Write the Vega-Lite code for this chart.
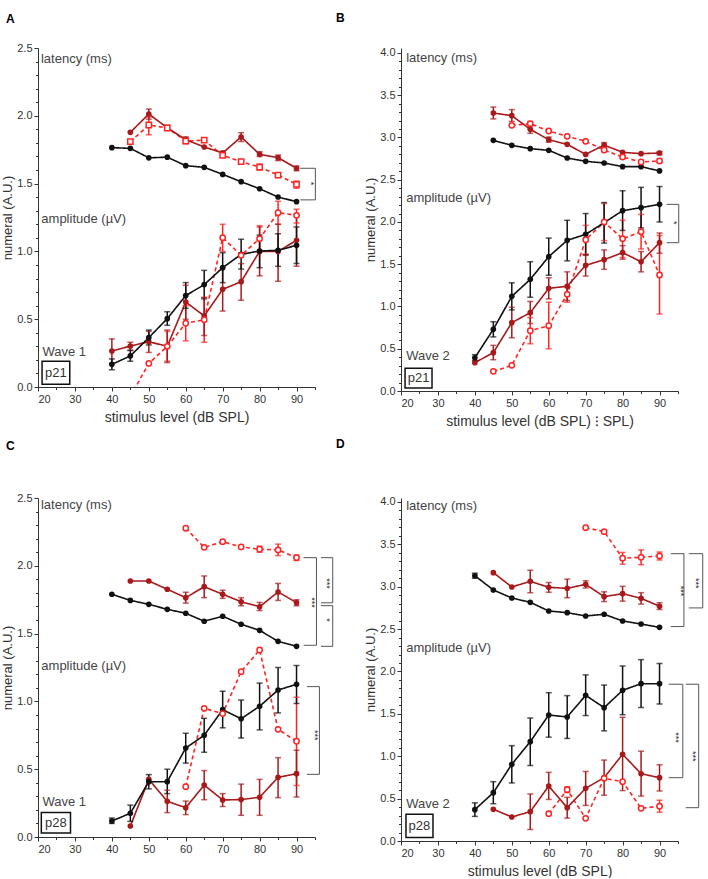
{
"$schema":"https://vega.github.io/schema/vega-lite/v6.json",
"padding":{"left":1,"top":11,"right":0,"bottom":0},
"autosize":{"type":"pad"},
"datasets":{
"pts":[
{"p":"A","g":"L","s":"r","x":45,"y":1.809},{"p":"A","g":"L","s":"r","x":50,"y":1.932,"lo":1.86,"hi":1.99},{"p":"A","g":"L","s":"r","x":55,"y":1.91},{"p":"A","g":"L","s":"r","x":60,"y":1.814,"lo":1.795,"hi":1.835},{"p":"A","g":"L","s":"r","x":65,"y":1.82},{"p":"A","g":"L","s":"r","x":70,"y":1.708},{"p":"A","g":"L","s":"r","x":75,"y":1.662},{"p":"A","g":"L","s":"r","x":80,"y":1.622,"lo":1.6,"hi":1.645},{"p":"A","g":"L","s":"r","x":85,"y":1.563,"lo":1.55,"hi":1.575},{"p":"A","g":"L","s":"r","x":90,"y":1.495,"lo":1.465,"hi":1.52},
{"p":"A","g":"A","s":"r","x":45,"y":-0.07},{"p":"A","g":"A","s":"r","x":50,"y":0.174},{"p":"A","g":"A","s":"r","x":55,"y":0.3,"lo":0.19,"hi":0.41},{"p":"A","g":"A","s":"r","x":60,"y":0.47,"lo":0.34,"hi":0.6},{"p":"A","g":"A","s":"r","x":65,"y":0.496,"lo":0.33,"hi":0.66},{"p":"A","g":"A","s":"r","x":70,"y":1.101,"lo":1.0,"hi":1.2},{"p":"A","g":"A","s":"r","x":75,"y":0.971},{"p":"A","g":"A","s":"r","x":80,"y":1.094,"lo":1.0,"hi":1.19},{"p":"A","g":"A","s":"r","x":85,"y":1.285,"lo":1.2,"hi":1.37},{"p":"A","g":"A","s":"r","x":90,"y":1.266,"lo":1.21,"hi":1.31},
{"p":"A","g":"L","s":"d","x":45,"y":1.878},{"p":"A","g":"L","s":"d","x":50,"y":2.013,"lo":1.975,"hi":2.05},{"p":"A","g":"L","s":"d","x":55,"y":1.912,"lo":1.895,"hi":1.93},{"p":"A","g":"L","s":"d","x":60,"y":1.824,"lo":1.805,"hi":1.845},{"p":"A","g":"L","s":"d","x":65,"y":1.77},{"p":"A","g":"L","s":"d","x":70,"y":1.726,"lo":1.71,"hi":1.74},{"p":"A","g":"L","s":"d","x":75,"y":1.844,"lo":1.81,"hi":1.875},{"p":"A","g":"L","s":"d","x":80,"y":1.716,"lo":1.7,"hi":1.735},{"p":"A","g":"L","s":"d","x":85,"y":1.691,"lo":1.67,"hi":1.71},{"p":"A","g":"L","s":"d","x":90,"y":1.613,"lo":1.595,"hi":1.63},
{"p":"A","g":"A","s":"d","x":40,"y":0.265,"lo":0.175,"hi":0.355},{"p":"A","g":"A","s":"d","x":45,"y":0.302,"lo":0.27,"hi":0.33},{"p":"A","g":"A","s":"d","x":50,"y":0.334,"lo":0.255,"hi":0.41},{"p":"A","g":"A","s":"d","x":55,"y":0.3,"lo":0.18,"hi":0.42},{"p":"A","g":"A","s":"d","x":60,"y":0.627,"lo":0.5,"hi":0.75},{"p":"A","g":"A","s":"d","x":65,"y":0.524,"lo":0.38,"hi":0.66},{"p":"A","g":"A","s":"d","x":70,"y":0.72,"lo":0.56,"hi":0.88},{"p":"A","g":"A","s":"d","x":75,"y":0.777,"lo":0.64,"hi":0.91},{"p":"A","g":"A","s":"d","x":80,"y":1.0,"lo":0.82,"hi":1.18},{"p":"A","g":"A","s":"d","x":85,"y":1.0,"lo":0.78,"hi":1.2},{"p":"A","g":"A","s":"d","x":90,"y":1.082,"lo":0.89,"hi":1.27},
{"p":"A","g":"L","s":"k","x":40,"y":1.765},{"p":"A","g":"L","s":"k","x":45,"y":1.76},{"p":"A","g":"L","s":"k","x":50,"y":1.69},{"p":"A","g":"L","s":"k","x":55,"y":1.695},{"p":"A","g":"L","s":"k","x":60,"y":1.632},{"p":"A","g":"L","s":"k","x":65,"y":1.62},{"p":"A","g":"L","s":"k","x":70,"y":1.568},{"p":"A","g":"L","s":"k","x":75,"y":1.514},{"p":"A","g":"L","s":"k","x":80,"y":1.462},{"p":"A","g":"L","s":"k","x":85,"y":1.401},{"p":"A","g":"L","s":"k","x":90,"y":1.367},
{"p":"A","g":"A","s":"k","x":40,"y":0.167,"lo":0.127,"hi":0.207},{"p":"A","g":"A","s":"k","x":45,"y":0.229,"lo":0.19,"hi":0.27},{"p":"A","g":"A","s":"k","x":50,"y":0.364,"lo":0.31,"hi":0.42},{"p":"A","g":"A","s":"k","x":55,"y":0.504,"lo":0.455,"hi":0.555},{"p":"A","g":"A","s":"k","x":60,"y":0.674,"lo":0.58,"hi":0.77},{"p":"A","g":"A","s":"k","x":65,"y":0.755,"lo":0.65,"hi":0.86},{"p":"A","g":"A","s":"k","x":70,"y":0.88,"lo":0.77,"hi":0.99},{"p":"A","g":"A","s":"k","x":75,"y":0.978,"lo":0.87,"hi":1.09},{"p":"A","g":"A","s":"k","x":80,"y":1.003,"lo":0.88,"hi":1.12},{"p":"A","g":"A","s":"k","x":85,"y":1.008,"lo":0.89,"hi":1.13},{"p":"A","g":"A","s":"k","x":90,"y":1.045,"lo":0.91,"hi":1.18},

{"p":"B","g":"L","s":"r","x":50,"y":3.144},{"p":"B","g":"L","s":"r","x":55,"y":3.163,"lo":3.13,"hi":3.19},{"p":"B","g":"L","s":"r","x":60,"y":3.077},{"p":"B","g":"L","s":"r","x":65,"y":3.014},{"p":"B","g":"L","s":"r","x":70,"y":2.955},{"p":"B","g":"L","s":"r","x":75,"y":2.852,"lo":2.83,"hi":2.875},{"p":"B","g":"L","s":"r","x":80,"y":2.769,"lo":2.75,"hi":2.79},{"p":"B","g":"L","s":"r","x":85,"y":2.71},{"p":"B","g":"L","s":"r","x":90,"y":2.722,"lo":2.7,"hi":2.745},
{"p":"B","g":"A","s":"r","x":45,"y":0.233},{"p":"B","g":"A","s":"r","x":50,"y":0.304},{"p":"B","g":"A","s":"r","x":55,"y":0.714,"lo":0.56,"hi":0.87},{"p":"B","g":"A","s":"r","x":60,"y":0.773,"lo":0.5,"hi":1.05},{"p":"B","g":"A","s":"r","x":65,"y":1.144,"lo":1.05,"hi":1.23},{"p":"B","g":"A","s":"r","x":70,"y":1.79,"lo":1.62,"hi":1.96},{"p":"B","g":"A","s":"r","x":75,"y":2.0,"lo":1.78,"hi":2.22},{"p":"B","g":"A","s":"r","x":80,"y":1.802,"lo":1.58,"hi":2.02},{"p":"B","g":"A","s":"r","x":85,"y":1.885,"lo":1.68,"hi":2.09},{"p":"B","g":"A","s":"r","x":90,"y":1.373,"lo":0.91,"hi":1.84},
{"p":"B","g":"L","s":"d","x":45,"y":3.29,"lo":3.22,"hi":3.36},{"p":"B","g":"L","s":"d","x":50,"y":3.258,"lo":3.19,"hi":3.33},{"p":"B","g":"L","s":"d","x":55,"y":3.097,"lo":3.05,"hi":3.15},{"p":"B","g":"L","s":"d","x":60,"y":2.974,"lo":2.945,"hi":3.005},{"p":"B","g":"L","s":"d","x":65,"y":2.919},{"p":"B","g":"L","s":"d","x":70,"y":2.8},{"p":"B","g":"L","s":"d","x":75,"y":2.911,"lo":2.88,"hi":2.94},{"p":"B","g":"L","s":"d","x":80,"y":2.824},{"p":"B","g":"L","s":"d","x":85,"y":2.809},{"p":"B","g":"L","s":"d","x":90,"y":2.816,"lo":2.795,"hi":2.835},
{"p":"B","g":"A","s":"d","x":40,"y":0.335},{"p":"B","g":"A","s":"d","x":45,"y":0.454,"lo":0.37,"hi":0.54},{"p":"B","g":"A","s":"d","x":50,"y":0.809,"lo":0.63,"hi":0.99},{"p":"B","g":"A","s":"d","x":55,"y":0.927,"lo":0.8,"hi":1.06},{"p":"B","g":"A","s":"d","x":60,"y":1.215,"lo":1.09,"hi":1.34},{"p":"B","g":"A","s":"d","x":65,"y":1.239,"lo":1.07,"hi":1.41},{"p":"B","g":"A","s":"d","x":70,"y":1.487,"lo":1.36,"hi":1.61},{"p":"B","g":"A","s":"d","x":75,"y":1.554,"lo":1.44,"hi":1.67},{"p":"B","g":"A","s":"d","x":80,"y":1.637,"lo":1.56,"hi":1.72},{"p":"B","g":"A","s":"d","x":85,"y":1.53,"lo":1.41,"hi":1.65},{"p":"B","g":"A","s":"d","x":90,"y":1.755,"lo":1.63,"hi":1.87},
{"p":"B","g":"L","s":"k","x":45,"y":2.966},{"p":"B","g":"L","s":"k","x":50,"y":2.907},{"p":"B","g":"L","s":"k","x":55,"y":2.868},{"p":"B","g":"L","s":"k","x":60,"y":2.848},{"p":"B","g":"L","s":"k","x":65,"y":2.757},{"p":"B","g":"L","s":"k","x":70,"y":2.718},{"p":"B","g":"L","s":"k","x":75,"y":2.698},{"p":"B","g":"L","s":"k","x":80,"y":2.655},{"p":"B","g":"L","s":"k","x":85,"y":2.655},{"p":"B","g":"L","s":"k","x":90,"y":2.604},
{"p":"B","g":"A","s":"k","x":40,"y":0.394,"lo":0.36,"hi":0.43},{"p":"B","g":"A","s":"k","x":45,"y":0.73,"lo":0.64,"hi":0.82},{"p":"B","g":"A","s":"k","x":50,"y":1.12,"lo":0.96,"hi":1.28},{"p":"B","g":"A","s":"k","x":55,"y":1.321,"lo":1.11,"hi":1.53},{"p":"B","g":"A","s":"k","x":60,"y":1.59,"lo":1.37,"hi":1.81},{"p":"B","g":"A","s":"k","x":65,"y":1.783,"lo":1.54,"hi":2.02},{"p":"B","g":"A","s":"k","x":70,"y":1.854,"lo":1.61,"hi":2.1},{"p":"B","g":"A","s":"k","x":75,"y":1.992,"lo":1.75,"hi":2.23},{"p":"B","g":"A","s":"k","x":80,"y":2.134,"lo":1.9,"hi":2.37},{"p":"B","g":"A","s":"k","x":85,"y":2.17,"lo":1.93,"hi":2.41},{"p":"B","g":"A","s":"k","x":90,"y":2.209,"lo":2.0,"hi":2.42},

{"p":"C","g":"L","s":"r","x":60,"y":2.277},{"p":"C","g":"L","s":"r","x":65,"y":2.136},{"p":"C","g":"L","s":"r","x":70,"y":2.178},{"p":"C","g":"L","s":"r","x":75,"y":2.139},{"p":"C","g":"L","s":"r","x":80,"y":2.122,"lo":2.1,"hi":2.145},{"p":"C","g":"L","s":"r","x":85,"y":2.117,"lo":2.075,"hi":2.16},{"p":"C","g":"L","s":"r","x":90,"y":2.06,"lo":2.04,"hi":2.08},
{"p":"C","g":"A","s":"r","x":60,"y":0.371},{"p":"C","g":"A","s":"r","x":65,"y":0.949},{"p":"C","g":"A","s":"r","x":70,"y":0.91},{"p":"C","g":"A","s":"r","x":75,"y":1.219},{"p":"C","g":"A","s":"r","x":80,"y":1.379},{"p":"C","g":"A","s":"r","x":85,"y":0.794},{"p":"C","g":"A","s":"r","x":90,"y":0.706,"lo":0.38,"hi":1.03},
{"p":"C","g":"L","s":"d","x":45,"y":1.888},{"p":"C","g":"L","s":"d","x":50,"y":1.888},{"p":"C","g":"L","s":"d","x":55,"y":1.827},{"p":"C","g":"L","s":"d","x":60,"y":1.765,"lo":1.725,"hi":1.805},{"p":"C","g":"L","s":"d","x":65,"y":1.846,"lo":1.765,"hi":1.925},{"p":"C","g":"L","s":"d","x":70,"y":1.79,"lo":1.76,"hi":1.82},{"p":"C","g":"L","s":"d","x":75,"y":1.735,"lo":1.705,"hi":1.765},{"p":"C","g":"L","s":"d","x":80,"y":1.698,"lo":1.67,"hi":1.73},{"p":"C","g":"L","s":"d","x":85,"y":1.807,"lo":1.745,"hi":1.87},{"p":"C","g":"L","s":"d","x":90,"y":1.728,"lo":1.705,"hi":1.75},
{"p":"C","g":"A","s":"d","x":45,"y":0.081},{"p":"C","g":"A","s":"d","x":50,"y":0.425},{"p":"C","g":"A","s":"d","x":55,"y":0.263,"lo":0.18,"hi":0.345},{"p":"C","g":"A","s":"d","x":60,"y":0.216,"lo":0.165,"hi":0.265},{"p":"C","g":"A","s":"d","x":65,"y":0.383,"lo":0.275,"hi":0.49},{"p":"C","g":"A","s":"d","x":70,"y":0.273,"lo":0.225,"hi":0.32},{"p":"C","g":"A","s":"d","x":75,"y":0.276,"lo":0.16,"hi":0.39},{"p":"C","g":"A","s":"d","x":80,"y":0.293,"lo":0.16,"hi":0.425},{"p":"C","g":"A","s":"d","x":85,"y":0.44,"lo":0.29,"hi":0.585},{"p":"C","g":"A","s":"d","x":90,"y":0.467,"lo":0.295,"hi":0.64},
{"p":"C","g":"L","s":"k","x":40,"y":1.79},{"p":"C","g":"L","s":"k","x":45,"y":1.745},{"p":"C","g":"L","s":"k","x":50,"y":1.716},{"p":"C","g":"L","s":"k","x":55,"y":1.679},{"p":"C","g":"L","s":"k","x":60,"y":1.65},{"p":"C","g":"L","s":"k","x":65,"y":1.591},{"p":"C","g":"L","s":"k","x":70,"y":1.628},{"p":"C","g":"L","s":"k","x":75,"y":1.569},{"p":"C","g":"L","s":"k","x":80,"y":1.524},{"p":"C","g":"L","s":"k","x":85,"y":1.443},{"p":"C","g":"L","s":"k","x":90,"y":1.406},
{"p":"C","g":"A","s":"k","x":40,"y":0.118,"lo":0.1,"hi":0.14},{"p":"C","g":"A","s":"k","x":45,"y":0.175,"lo":0.115,"hi":0.235},{"p":"C","g":"A","s":"k","x":50,"y":0.408,"lo":0.355,"hi":0.46},{"p":"C","g":"A","s":"k","x":55,"y":0.408,"lo":0.32,"hi":0.5},{"p":"C","g":"A","s":"k","x":60,"y":0.656,"lo":0.545,"hi":0.765},{"p":"C","g":"A","s":"k","x":65,"y":0.75,"lo":0.625,"hi":0.875},{"p":"C","g":"A","s":"k","x":70,"y":0.939,"lo":0.805,"hi":1.075},{"p":"C","g":"A","s":"k","x":75,"y":0.872,"lo":0.73,"hi":1.01},{"p":"C","g":"A","s":"k","x":80,"y":0.964,"lo":0.79,"hi":1.135},{"p":"C","g":"A","s":"k","x":85,"y":1.084,"lo":0.915,"hi":1.25},{"p":"C","g":"A","s":"k","x":90,"y":1.126,"lo":0.985,"hi":1.265},

{"p":"D","g":"L","s":"r","x":70,"y":3.697},{"p":"D","g":"L","s":"r","x":75,"y":3.65},{"p":"D","g":"L","s":"r","x":80,"y":3.336,"lo":3.265,"hi":3.405},{"p":"D","g":"L","s":"r","x":85,"y":3.347,"lo":3.26,"hi":3.435},{"p":"D","g":"L","s":"r","x":90,"y":3.363,"lo":3.315,"hi":3.41},
{"p":"D","g":"A","s":"r","x":60,"y":0.322},{"p":"D","g":"A","s":"r","x":65,"y":0.605,"lo":0.57,"hi":0.64},{"p":"D","g":"A","s":"r","x":70,"y":0.268},{"p":"D","g":"A","s":"r","x":75,"y":0.74},{"p":"D","g":"A","s":"r","x":80,"y":0.7},{"p":"D","g":"A","s":"r","x":85,"y":0.386},{"p":"D","g":"A","s":"r","x":90,"y":0.41,"lo":0.34,"hi":0.48},
{"p":"D","g":"L","s":"d","x":45,"y":3.166},{"p":"D","g":"L","s":"d","x":50,"y":2.997},{"p":"D","g":"L","s":"d","x":55,"y":3.064,"lo":2.93,"hi":3.195},{"p":"D","g":"L","s":"d","x":60,"y":2.993,"lo":2.935,"hi":3.05},{"p":"D","g":"L","s":"d","x":65,"y":2.981,"lo":2.87,"hi":3.09},{"p":"D","g":"L","s":"d","x":70,"y":3.028,"lo":2.985,"hi":3.07},{"p":"D","g":"L","s":"d","x":75,"y":2.883,"lo":2.825,"hi":2.94},{"p":"D","g":"L","s":"d","x":80,"y":2.918,"lo":2.83,"hi":3.005},{"p":"D","g":"L","s":"d","x":85,"y":2.863,"lo":2.795,"hi":2.93},{"p":"D","g":"L","s":"d","x":90,"y":2.77,"lo":2.73,"hi":2.81},
{"p":"D","g":"A","s":"d","x":45,"y":0.374},{"p":"D","g":"A","s":"d","x":50,"y":0.283},{"p":"D","g":"A","s":"d","x":55,"y":0.346,"lo":0.135,"hi":0.555},{"p":"D","g":"A","s":"d","x":60,"y":0.649,"lo":0.49,"hi":0.81},{"p":"D","g":"A","s":"d","x":65,"y":0.393,"lo":0.27,"hi":0.515},{"p":"D","g":"A","s":"d","x":70,"y":0.622,"lo":0.42,"hi":0.82},{"p":"D","g":"A","s":"d","x":75,"y":0.747,"lo":0.54,"hi":0.955},{"p":"D","g":"A","s":"d","x":80,"y":1.023,"lo":0.595,"hi":1.46},{"p":"D","g":"A","s":"d","x":85,"y":0.794,"lo":0.53,"hi":1.06},{"p":"D","g":"A","s":"d","x":90,"y":0.747,"lo":0.59,"hi":0.9},
{"p":"D","g":"L","s":"k","x":40,"y":3.13,"lo":3.1,"hi":3.16},{"p":"D","g":"L","s":"k","x":45,"y":2.962},{"p":"D","g":"L","s":"k","x":50,"y":2.867},{"p":"D","g":"L","s":"k","x":55,"y":2.816},{"p":"D","g":"L","s":"k","x":60,"y":2.714},{"p":"D","g":"L","s":"k","x":65,"y":2.694},{"p":"D","g":"L","s":"k","x":70,"y":2.655},{"p":"D","g":"L","s":"k","x":75,"y":2.675},{"p":"D","g":"L","s":"k","x":80,"y":2.596},{"p":"D","g":"L","s":"k","x":85,"y":2.56},{"p":"D","g":"L","s":"k","x":90,"y":2.521},
{"p":"D","g":"A","s":"k","x":40,"y":0.37,"lo":0.29,"hi":0.45},{"p":"D","g":"A","s":"k","x":45,"y":0.57,"lo":0.44,"hi":0.7},{"p":"D","g":"A","s":"k","x":50,"y":0.905,"lo":0.685,"hi":1.125},{"p":"D","g":"A","s":"k","x":55,"y":1.172,"lo":0.89,"hi":1.45},{"p":"D","g":"A","s":"k","x":60,"y":1.487,"lo":1.225,"hi":1.75},{"p":"D","g":"A","s":"k","x":65,"y":1.463,"lo":1.21,"hi":1.715},{"p":"D","g":"A","s":"k","x":70,"y":1.719,"lo":1.48,"hi":1.96},{"p":"D","g":"A","s":"k","x":75,"y":1.573,"lo":1.3,"hi":1.84},{"p":"D","g":"A","s":"k","x":80,"y":1.778,"lo":1.49,"hi":2.065},{"p":"D","g":"A","s":"k","x":85,"y":1.856,"lo":1.575,"hi":2.14},{"p":"D","g":"A","s":"k","x":90,"y":1.856,"lo":1.615,"hi":2.095}
],
"br":[
{"p":"A","x":91,"x2":95.1,"y":1.613,"y2":1.613},{"p":"A","x":91,"x2":95.1,"y":1.38,"y2":1.38},{"p":"A","x":95.1,"x2":95.1,"y":1.38,"y2":1.613},
{"p":"B","x":91.9,"x2":95.2,"y":2.209,"y2":2.209},{"p":"B","x":91.9,"x2":95.2,"y":1.755,"y2":1.755},{"p":"B","x":95.2,"x2":95.2,"y":1.755,"y2":2.209},
{"p":"C","x":91.9,"x2":95.4,"y":2.06,"y2":2.06},{"p":"C","x":91.9,"x2":95.4,"y":1.414,"y2":1.414},{"p":"C","x":95.4,"x2":95.4,"y":1.414,"y2":2.06},
{"p":"C","x":96.6,"x2":99.8,"y":2.06,"y2":2.06},{"p":"C","x":96.6,"x2":99.8,"y":1.727,"y2":1.727},{"p":"C","x":99.8,"x2":99.8,"y":1.727,"y2":2.06},
{"p":"C","x":96.6,"x2":99.8,"y":1.706,"y2":1.706},{"p":"C","x":96.6,"x2":99.8,"y":1.406,"y2":1.406},{"p":"C","x":99.8,"x2":99.8,"y":1.406,"y2":1.706},
{"p":"C","x":92.8,"x2":96.2,"y":1.109,"y2":1.109},{"p":"C","x":92.8,"x2":96.2,"y":0.462,"y2":0.462},{"p":"C","x":96.2,"x2":96.2,"y":0.462,"y2":1.109},
{"p":"D","x":93.05,"x2":96.6,"y":3.39,"y2":3.39},{"p":"D","x":93.05,"x2":96.6,"y":2.53,"y2":2.53},{"p":"D","x":96.6,"x2":96.6,"y":2.53,"y2":3.39},
{"p":"D","x":97.9,"x2":101.7,"y":3.39,"y2":3.39},{"p":"D","x":97.9,"x2":101.7,"y":2.75,"y2":2.75},{"p":"D","x":101.7,"x2":101.7,"y":2.75,"y2":3.39},
{"p":"D","x":92.5,"x2":96.3,"y":1.85,"y2":1.85},{"p":"D","x":92.5,"x2":96.3,"y":0.747,"y2":0.747},{"p":"D","x":96.3,"x2":96.3,"y":0.747,"y2":1.85},
{"p":"D","x":97.1,"x2":100.6,"y":1.85,"y2":1.85},{"p":"D","x":97.1,"x2":100.6,"y":0.393,"y2":0.393},{"p":"D","x":100.6,"x2":100.6,"y":0.393,"y2":1.85}
],
"st":[
{"p":"A","x":93.8,"y":1.5,"t":"*"},{"p":"B","x":93.8,"y":1.99,"t":"*"},
{"p":"C","x":94.1,"y":1.73,"t":"***"},{"p":"C","x":98.2,"y":1.87,"t":"***"},{"p":"C","x":98.2,"y":1.6,"t":"*"},{"p":"C","x":95.0,"y":0.75,"t":"***"},
{"p":"D","x":95.8,"y":2.95,"t":"***"},{"p":"D","x":99.8,"y":3.04,"t":"***"},{"p":"D","x":94.4,"y":1.22,"t":"***"},{"p":"D","x":99.0,"y":1.0,"t":"***"}
],
"lab":[
{"p":"A","x":20.8,"y":2.42,"t":"latency (ms)"},{"p":"A","x":20.9,"y":1.24,"t":"amplitude (µV)"},{"p":"A","x":21.2,"y":0.26,"t":"Wave 1"},
{"p":"B","x":21.4,"y":3.94,"t":"latency (ms)"},{"p":"B","x":21.4,"y":2.28,"t":"amplitude (µV)"},{"p":"B","x":21.4,"y":0.41,"t":"Wave 2"},
{"p":"C","x":20.8,"y":2.45,"t":"latency (ms)"},{"p":"C","x":20.9,"y":1.26,"t":"amplitude (µV)"},{"p":"C","x":21.2,"y":0.26,"t":"Wave 1"},
{"p":"D","x":21.4,"y":3.95,"t":"latency (ms)"},{"p":"D","x":21.4,"y":2.28,"t":"amplitude (µV)"},{"p":"D","x":21.4,"y":0.433,"t":"Wave 2"}
],
"bx":[
{"p":"A","x":21.1,"x2":28.6,"y":0.02,"y2":0.19,"xc":24.85,"yc":0.105,"t":"p21"},
{"p":"B","x":21.1,"x2":28.4,"y":0.035,"y2":0.27,"xc":24.75,"yc":0.152,"t":"p21"},
{"p":"C","x":20.9,"x2":28.8,"y":0.03,"y2":0.18,"xc":24.85,"yc":0.105,"t":"p28"},
{"p":"D","x":21.35,"x2":28.66,"y":0.04,"y2":0.315,"xc":25.0,"yc":0.178,"t":"p28"}
]
},
"columns":2,
"spacing":{"row":107,"column":86},
"bounds":"flush",
"concat":[
{"width":277,"height":339,
"title":{"text":"A","anchor":"start","frame":"group","dx":-32,"offset":16,"fontSize":12,"fontWeight":"bold","font":"Liberation Sans","color":"#000"},
"layer":[
{"data":{"name":"pts"},"transform":[{"filter":"datum.p=='A'"}],"mark":{"type":"line","strokeWidth":1.6,"clip":true},
"encoding":{
"x":{"field":"x","type":"quantitative","scale":{"domain":[20,95],"nice":false,"zero":false},"axis":{"orient":"bottom","values":[20,30,40,50,60,70,80,90],"title":"stimulus level (dB SPL)"}},
"y":{"field":"y","type":"quantitative","scale":{"domain":[0,2.5],"nice":false,"zero":false},"axis":{"orient":"left","values":[0,0.5,1,1.5,2,2.5],"format":".1f","title":"numeral (A.U.)"}},
"color":{"field":"s","type":"nominal","scale":{"domain":["k","d","r"],"range":["#111111","#a8191b","#ff2424"]},"legend":null},
"strokeDash":{"field":"s","type":"nominal","scale":{"domain":["k","d","r"],"range":[[1,0],[1,0],[4,3]]},"legend":null},
"detail":{"field":"g"}}},
{"data":{"name":"pts"},"transform":[{"filter":"datum.p=='A' && isValid(datum.lo)"}],"mark":{"type":"rule","strokeWidth":1.5},"encoding":{"x":{"field":"x","type":"quantitative","axis":null},"y":{"field":"lo","type":"quantitative","axis":null},"y2":{"field":"hi"},"color":{"field":"s","type":"nominal","legend":null}}},
{"data":{"name":"pts"},"transform":[{"filter":"datum.p=='A' && isValid(datum.lo)"}],"mark":{"type":"tick","orient":"horizontal","size":6,"thickness":1.5},"encoding":{"x":{"field":"x","type":"quantitative","axis":null},"y":{"field":"lo","type":"quantitative","axis":null},"color":{"field":"s","type":"nominal","legend":null}}},
{"data":{"name":"pts"},"transform":[{"filter":"datum.p=='A' && isValid(datum.lo)"}],"mark":{"type":"tick","orient":"horizontal","size":6,"thickness":1.5},"encoding":{"x":{"field":"x","type":"quantitative","axis":null},"y":{"field":"hi","type":"quantitative","axis":null},"color":{"field":"s","type":"nominal","legend":null}}},
{"data":{"name":"pts"},"transform":[{"filter":"datum.p=='A' && datum.s!='r'"}],"mark":{"type":"point","filled":true,"size":32,"opacity":1,"clip":true},"encoding":{"x":{"field":"x","type":"quantitative","axis":null},"y":{"field":"y","type":"quantitative","axis":null},"color":{"field":"s","type":"nominal","legend":null}}},
{"data":{"name":"pts"},"transform":[{"filter":"datum.p=='A' && datum.s=='r'"}],"mark":{"type":"point","filled":false,"fill":"white","stroke":"#ff2424","strokeWidth":1.5,"size":28,"opacity":1,"clip":true},"encoding":{"x":{"field":"x","type":"quantitative","axis":null},"y":{"field":"y","type":"quantitative","axis":null},"shape":{"condition":{"test":"datum.g=='L'","value":"square"},"value":"circle"}}},
{"data":{"name":"br"},"transform":[{"filter":"datum.p=='A'"}],"mark":{"type":"rule","color":"#555","strokeWidth":1},"encoding":{"x":{"field":"x","type":"quantitative","axis":null},"x2":{"field":"x2"},"y":{"field":"y","type":"quantitative","axis":null},"y2":{"field":"y2"}}},
{"data":{"name":"st"},"transform":[{"filter":"datum.p=='A'"}],"mark":{"type":"text","angle":90,"fontSize":9,"font":"Liberation Sans","color":"#222","baseline":"middle","align":"center"},"encoding":{"x":{"field":"x","type":"quantitative","axis":null},"y":{"field":"y","type":"quantitative","axis":null},"text":{"field":"t"}}},
{"data":{"name":"lab"},"transform":[{"filter":"datum.p=='A'"}],"mark":{"type":"text","fontSize":13,"font":"Liberation Sans","color":"#444","baseline":"middle","align":"left"},"encoding":{"x":{"field":"x","type":"quantitative","axis":null},"y":{"field":"y","type":"quantitative","axis":null},"text":{"field":"t"}}},
{"data":{"name":"bx"},"transform":[{"filter":"datum.p=='A'"}],"mark":{"type":"rect","fill":null,"stroke":"#111","strokeWidth":1.5},"encoding":{"x":{"field":"x","type":"quantitative","axis":null},"x2":{"field":"x2"},"y":{"field":"y","type":"quantitative","axis":null},"y2":{"field":"y2"}}},
{"data":{"name":"bx"},"transform":[{"filter":"datum.p=='A'"}],"mark":{"type":"text","fontSize":13,"font":"Liberation Sans","color":"#333","baseline":"middle","align":"center"},"encoding":{"x":{"field":"xc","type":"quantitative","axis":null},"y":{"field":"yc","type":"quantitative","axis":null},"text":{"field":"t"}}},
{"data":{"name":"pts"},"transform":[{"filter":"datum.p=='A'"}],"mark":{"type":"point","opacity":0},"encoding":{"x":{"field":"x","type":"quantitative","axis":{"orient":"bottom","values":[25,35,45,55,65,75,85,95],"labels":false,"domain":false,"tickSize":2.5,"title":null}},"y":{"field":"y","type":"quantitative","axis":{"orient":"left","values":[0.1,0.2,0.3,0.4,0.6,0.7,0.8,0.9,1.1,1.2,1.3,1.4,1.6,1.7,1.8,1.9,2.1,2.2,2.3,2.4],"labels":false,"domain":false,"tickSize":2.5,"title":null}}}}
],
"resolve":{"axis":{"x":"independent","y":"independent"}}},

{"width":277,"height":343,
"title":{"text":"B","anchor":"start","frame":"group","dx":-65,"offset":22,"fontSize":12,"fontWeight":"bold","font":"Liberation Sans","color":"#000"},
"layer":[
{"data":{"name":"pts"},"transform":[{"filter":"datum.p=='B'"}],"mark":{"type":"line","strokeWidth":1.6,"clip":true},
"encoding":{
"x":{"field":"x","type":"quantitative","scale":{"domain":[20,95],"nice":false,"zero":false},"axis":{"orient":"bottom","values":[20,30,40,50,60,70,80,90],"title":"stimulus level (dB SPL) ⁝ SPL)"}},
"y":{"field":"y","type":"quantitative","scale":{"domain":[0,4.059],"nice":false,"zero":false},"axis":{"orient":"left","values":[0,0.5,1,1.5,2,2.5,3,3.5,4],"format":".1f","title":"numeral (A.U.)"}},
"color":{"field":"s","type":"nominal","scale":{"domain":["k","d","r"],"range":["#111111","#a8191b","#ff2424"]},"legend":null},
"strokeDash":{"field":"s","type":"nominal","scale":{"domain":["k","d","r"],"range":[[1,0],[1,0],[4,3]]},"legend":null},
"detail":{"field":"g"}}},
{"data":{"name":"pts"},"transform":[{"filter":"datum.p=='B' && isValid(datum.lo)"}],"mark":{"type":"rule","strokeWidth":1.5},"encoding":{"x":{"field":"x","type":"quantitative","axis":null},"y":{"field":"lo","type":"quantitative","axis":null},"y2":{"field":"hi"},"color":{"field":"s","type":"nominal","legend":null}}},
{"data":{"name":"pts"},"transform":[{"filter":"datum.p=='B' && isValid(datum.lo)"}],"mark":{"type":"tick","orient":"horizontal","size":6,"thickness":1.5},"encoding":{"x":{"field":"x","type":"quantitative","axis":null},"y":{"field":"lo","type":"quantitative","axis":null},"color":{"field":"s","type":"nominal","legend":null}}},
{"data":{"name":"pts"},"transform":[{"filter":"datum.p=='B' && isValid(datum.lo)"}],"mark":{"type":"tick","orient":"horizontal","size":6,"thickness":1.5},"encoding":{"x":{"field":"x","type":"quantitative","axis":null},"y":{"field":"hi","type":"quantitative","axis":null},"color":{"field":"s","type":"nominal","legend":null}}},
{"data":{"name":"pts"},"transform":[{"filter":"datum.p=='B' && datum.s!='r'"}],"mark":{"type":"point","filled":true,"size":32,"opacity":1,"clip":true},"encoding":{"x":{"field":"x","type":"quantitative","axis":null},"y":{"field":"y","type":"quantitative","axis":null},"color":{"field":"s","type":"nominal","legend":null}}},
{"data":{"name":"pts"},"transform":[{"filter":"datum.p=='B' && datum.s=='r'"}],"mark":{"type":"point","shape":"circle","filled":false,"fill":"white","stroke":"#ff2424","strokeWidth":1.5,"size":28,"opacity":1,"clip":true},"encoding":{"x":{"field":"x","type":"quantitative","axis":null},"y":{"field":"y","type":"quantitative","axis":null}}},
{"data":{"name":"br"},"transform":[{"filter":"datum.p=='B'"}],"mark":{"type":"rule","color":"#555","strokeWidth":1},"encoding":{"x":{"field":"x","type":"quantitative","axis":null},"x2":{"field":"x2"},"y":{"field":"y","type":"quantitative","axis":null},"y2":{"field":"y2"}}},
{"data":{"name":"st"},"transform":[{"filter":"datum.p=='B'"}],"mark":{"type":"text","angle":90,"fontSize":9,"font":"Liberation Sans","color":"#222","baseline":"middle","align":"center"},"encoding":{"x":{"field":"x","type":"quantitative","axis":null},"y":{"field":"y","type":"quantitative","axis":null},"text":{"field":"t"}}},
{"data":{"name":"lab"},"transform":[{"filter":"datum.p=='B'"}],"mark":{"type":"text","fontSize":13,"font":"Liberation Sans","color":"#444","baseline":"middle","align":"left"},"encoding":{"x":{"field":"x","type":"quantitative","axis":null},"y":{"field":"y","type":"quantitative","axis":null},"text":{"field":"t"}}},
{"data":{"name":"bx"},"transform":[{"filter":"datum.p=='B'"}],"mark":{"type":"rect","fill":null,"stroke":"#111","strokeWidth":1.5},"encoding":{"x":{"field":"x","type":"quantitative","axis":null},"x2":{"field":"x2"},"y":{"field":"y","type":"quantitative","axis":null},"y2":{"field":"y2"}}},
{"data":{"name":"bx"},"transform":[{"filter":"datum.p=='B'"}],"mark":{"type":"text","fontSize":13,"font":"Liberation Sans","color":"#333","baseline":"middle","align":"center"},"encoding":{"x":{"field":"xc","type":"quantitative","axis":null},"y":{"field":"yc","type":"quantitative","axis":null},"text":{"field":"t"}}},
{"data":{"name":"pts"},"transform":[{"filter":"datum.p=='B'"}],"mark":{"type":"point","opacity":0},"encoding":{"x":{"field":"x","type":"quantitative","axis":{"orient":"bottom","values":[25,35,45,55,65,75,85,95],"labels":false,"domain":false,"tickSize":2.5,"title":null}},"y":{"field":"y","type":"quantitative","axis":{"orient":"left","values":[0.1,0.2,0.3,0.4,0.6,0.7,0.8,0.9,1.1,1.2,1.3,1.4,1.6,1.7,1.8,1.9,2.1,2.2,2.3,2.4,2.6,2.7,2.8,2.9,3.1,3.2,3.3,3.4,3.6,3.7,3.8,3.9],"labels":false,"domain":false,"tickSize":2.5,"title":null}}}}
],
"resolve":{"axis":{"x":"independent","y":"independent"}}},

{"width":277,"height":339,
"title":{"text":"C","anchor":"start","frame":"group","dx":-32,"offset":39,"fontSize":12,"fontWeight":"bold","font":"Liberation Sans","color":"#000"},
"layer":[
{"data":{"name":"pts"},"transform":[{"filter":"datum.p=='C'"}],"mark":{"type":"line","strokeWidth":1.6,"clip":true},
"encoding":{
"x":{"field":"x","type":"quantitative","scale":{"domain":[20,95],"nice":false,"zero":false},"axis":{"orient":"bottom","values":[20,30,40,50,60,70,80,90],"title":null}},
"y":{"field":"y","type":"quantitative","scale":{"domain":[0,2.5],"nice":false,"zero":false},"axis":{"orient":"left","values":[0,0.5,1,1.5,2,2.5],"format":".1f","title":"numeral (A.U.)"}},
"color":{"field":"s","type":"nominal","scale":{"domain":["k","d","r"],"range":["#111111","#a8191b","#ff2424"]},"legend":null},
"strokeDash":{"field":"s","type":"nominal","scale":{"domain":["k","d","r"],"range":[[1,0],[1,0],[4,3]]},"legend":null},
"detail":{"field":"g"}}},
{"data":{"name":"pts"},"transform":[{"filter":"datum.p=='C' && isValid(datum.lo)"}],"mark":{"type":"rule","strokeWidth":1.5},"encoding":{"x":{"field":"x","type":"quantitative","axis":null},"y":{"field":"lo","type":"quantitative","axis":null},"y2":{"field":"hi"},"color":{"field":"s","type":"nominal","legend":null}}},
{"data":{"name":"pts"},"transform":[{"filter":"datum.p=='C' && isValid(datum.lo)"}],"mark":{"type":"tick","orient":"horizontal","size":6,"thickness":1.5},"encoding":{"x":{"field":"x","type":"quantitative","axis":null},"y":{"field":"lo","type":"quantitative","axis":null},"color":{"field":"s","type":"nominal","legend":null}}},
{"data":{"name":"pts"},"transform":[{"filter":"datum.p=='C' && isValid(datum.lo)"}],"mark":{"type":"tick","orient":"horizontal","size":6,"thickness":1.5},"encoding":{"x":{"field":"x","type":"quantitative","axis":null},"y":{"field":"hi","type":"quantitative","axis":null},"color":{"field":"s","type":"nominal","legend":null}}},
{"data":{"name":"pts"},"transform":[{"filter":"datum.p=='C' && datum.s!='r'"}],"mark":{"type":"point","filled":true,"size":32,"opacity":1,"clip":true},"encoding":{"x":{"field":"x","type":"quantitative","axis":null},"y":{"field":"y","type":"quantitative","axis":null},"color":{"field":"s","type":"nominal","legend":null}}},
{"data":{"name":"pts"},"transform":[{"filter":"datum.p=='C' && datum.s=='r'"}],"mark":{"type":"point","shape":"circle","filled":false,"fill":"white","stroke":"#ff2424","strokeWidth":1.5,"size":28,"opacity":1,"clip":true},"encoding":{"x":{"field":"x","type":"quantitative","axis":null},"y":{"field":"y","type":"quantitative","axis":null}}},
{"data":{"name":"br"},"transform":[{"filter":"datum.p=='C'"}],"mark":{"type":"rule","color":"#555","strokeWidth":1},"encoding":{"x":{"field":"x","type":"quantitative","axis":null},"x2":{"field":"x2"},"y":{"field":"y","type":"quantitative","axis":null},"y2":{"field":"y2"}}},
{"data":{"name":"st"},"transform":[{"filter":"datum.p=='C'"}],"mark":{"type":"text","angle":90,"fontSize":9,"font":"Liberation Sans","color":"#222","baseline":"middle","align":"center"},"encoding":{"x":{"field":"x","type":"quantitative","axis":null},"y":{"field":"y","type":"quantitative","axis":null},"text":{"field":"t"}}},
{"data":{"name":"lab"},"transform":[{"filter":"datum.p=='C'"}],"mark":{"type":"text","fontSize":13,"font":"Liberation Sans","color":"#444","baseline":"middle","align":"left"},"encoding":{"x":{"field":"x","type":"quantitative","axis":null},"y":{"field":"y","type":"quantitative","axis":null},"text":{"field":"t"}}},
{"data":{"name":"bx"},"transform":[{"filter":"datum.p=='C'"}],"mark":{"type":"rect","fill":null,"stroke":"#111","strokeWidth":1.5},"encoding":{"x":{"field":"x","type":"quantitative","axis":null},"x2":{"field":"x2"},"y":{"field":"y","type":"quantitative","axis":null},"y2":{"field":"y2"}}},
{"data":{"name":"bx"},"transform":[{"filter":"datum.p=='C'"}],"mark":{"type":"text","fontSize":13,"font":"Liberation Sans","color":"#333","baseline":"middle","align":"center"},"encoding":{"x":{"field":"xc","type":"quantitative","axis":null},"y":{"field":"yc","type":"quantitative","axis":null},"text":{"field":"t"}}},
{"data":{"name":"pts"},"transform":[{"filter":"datum.p=='C'"}],"mark":{"type":"point","opacity":0},"encoding":{"x":{"field":"x","type":"quantitative","axis":{"orient":"bottom","values":[25,35,45,55,65,75,85,95],"labels":false,"domain":false,"tickSize":2.5,"title":null}},"y":{"field":"y","type":"quantitative","axis":{"orient":"left","values":[0.1,0.2,0.3,0.4,0.6,0.7,0.8,0.9,1.1,1.2,1.3,1.4,1.6,1.7,1.8,1.9,2.1,2.2,2.3,2.4],"labels":false,"domain":false,"tickSize":2.5,"title":null}}}}
],
"resolve":{"axis":{"x":"independent","y":"independent"}}},

{"width":277,"height":343,
"title":{"text":"D","anchor":"start","frame":"group","dx":-65,"offset":45,"fontSize":12,"fontWeight":"bold","font":"Liberation Sans","color":"#000"},
"layer":[
{"data":{"name":"pts"},"transform":[{"filter":"datum.p=='D'"}],"mark":{"type":"line","strokeWidth":1.6,"clip":true},
"encoding":{
"x":{"field":"x","type":"quantitative","scale":{"domain":[20,95],"nice":false,"zero":false},"axis":{"orient":"bottom","values":[20,30,40,50,60,70,80,90],"title":"stimulus level (dB SPL)"}},
"y":{"field":"y","type":"quantitative","scale":{"domain":[0,4.047],"nice":false,"zero":false},"axis":{"orient":"left","values":[0,0.5,1,1.5,2,2.5,3,3.5,4],"format":".1f","title":"numeral (A.U.)"}},
"color":{"field":"s","type":"nominal","scale":{"domain":["k","d","r"],"range":["#111111","#a8191b","#ff2424"]},"legend":null},
"strokeDash":{"field":"s","type":"nominal","scale":{"domain":["k","d","r"],"range":[[1,0],[1,0],[4,3]]},"legend":null},
"detail":{"field":"g"}}},
{"data":{"name":"pts"},"transform":[{"filter":"datum.p=='D' && isValid(datum.lo)"}],"mark":{"type":"rule","strokeWidth":1.5},"encoding":{"x":{"field":"x","type":"quantitative","axis":null},"y":{"field":"lo","type":"quantitative","axis":null},"y2":{"field":"hi"},"color":{"field":"s","type":"nominal","legend":null}}},
{"data":{"name":"pts"},"transform":[{"filter":"datum.p=='D' && isValid(datum.lo)"}],"mark":{"type":"tick","orient":"horizontal","size":6,"thickness":1.5},"encoding":{"x":{"field":"x","type":"quantitative","axis":null},"y":{"field":"lo","type":"quantitative","axis":null},"color":{"field":"s","type":"nominal","legend":null}}},
{"data":{"name":"pts"},"transform":[{"filter":"datum.p=='D' && isValid(datum.lo)"}],"mark":{"type":"tick","orient":"horizontal","size":6,"thickness":1.5},"encoding":{"x":{"field":"x","type":"quantitative","axis":null},"y":{"field":"hi","type":"quantitative","axis":null},"color":{"field":"s","type":"nominal","legend":null}}},
{"data":{"name":"pts"},"transform":[{"filter":"datum.p=='D' && datum.s!='r'"}],"mark":{"type":"point","filled":true,"size":32,"opacity":1,"clip":true},"encoding":{"x":{"field":"x","type":"quantitative","axis":null},"y":{"field":"y","type":"quantitative","axis":null},"color":{"field":"s","type":"nominal","legend":null}}},
{"data":{"name":"pts"},"transform":[{"filter":"datum.p=='D' && datum.s=='r'"}],"mark":{"type":"point","shape":"circle","filled":false,"fill":"white","stroke":"#ff2424","strokeWidth":1.5,"size":28,"opacity":1,"clip":true},"encoding":{"x":{"field":"x","type":"quantitative","axis":null},"y":{"field":"y","type":"quantitative","axis":null}}},
{"data":{"name":"br"},"transform":[{"filter":"datum.p=='D'"}],"mark":{"type":"rule","color":"#555","strokeWidth":1},"encoding":{"x":{"field":"x","type":"quantitative","axis":null},"x2":{"field":"x2"},"y":{"field":"y","type":"quantitative","axis":null},"y2":{"field":"y2"}}},
{"data":{"name":"st"},"transform":[{"filter":"datum.p=='D'"}],"mark":{"type":"text","angle":90,"fontSize":9,"font":"Liberation Sans","color":"#222","baseline":"middle","align":"center"},"encoding":{"x":{"field":"x","type":"quantitative","axis":null},"y":{"field":"y","type":"quantitative","axis":null},"text":{"field":"t"}}},
{"data":{"name":"lab"},"transform":[{"filter":"datum.p=='D'"}],"mark":{"type":"text","fontSize":13,"font":"Liberation Sans","color":"#444","baseline":"middle","align":"left"},"encoding":{"x":{"field":"x","type":"quantitative","axis":null},"y":{"field":"y","type":"quantitative","axis":null},"text":{"field":"t"}}},
{"data":{"name":"bx"},"transform":[{"filter":"datum.p=='D'"}],"mark":{"type":"rect","fill":null,"stroke":"#111","strokeWidth":1.5},"encoding":{"x":{"field":"x","type":"quantitative","axis":null},"x2":{"field":"x2"},"y":{"field":"y","type":"quantitative","axis":null},"y2":{"field":"y2"}}},
{"data":{"name":"bx"},"transform":[{"filter":"datum.p=='D'"}],"mark":{"type":"text","fontSize":13,"font":"Liberation Sans","color":"#333","baseline":"middle","align":"center"},"encoding":{"x":{"field":"xc","type":"quantitative","axis":null},"y":{"field":"yc","type":"quantitative","axis":null},"text":{"field":"t"}}},
{"data":{"name":"pts"},"transform":[{"filter":"datum.p=='D'"}],"mark":{"type":"point","opacity":0},"encoding":{"x":{"field":"x","type":"quantitative","axis":{"orient":"bottom","values":[25,35,45,55,65,75,85,95],"labels":false,"domain":false,"tickSize":2.5,"title":null}},"y":{"field":"y","type":"quantitative","axis":{"orient":"left","values":[0.1,0.2,0.3,0.4,0.6,0.7,0.8,0.9,1.1,1.2,1.3,1.4,1.6,1.7,1.8,1.9,2.1,2.2,2.3,2.4,2.6,2.7,2.8,2.9,3.1,3.2,3.3,3.4,3.6,3.7,3.8,3.9],"labels":false,"domain":false,"tickSize":2.5,"title":null}}}}
],
"resolve":{"axis":{"x":"independent","y":"independent"}}}
],
"config":{
"view":{"stroke":null},
"axis":{"grid":false,"labelFont":"Liberation Sans","labelFontSize":11,"labelColor":"#333","titleFont":"Liberation Sans","titleFontWeight":"normal","titleColor":"#333","domainColor":"#333","tickColor":"#333","tickSize":4,"labelPadding":2},
"axisX":{"titleFontSize":14,"titlePadding":6},
"axisY":{"titleFontSize":13,"titlePadding":2}
}
}
